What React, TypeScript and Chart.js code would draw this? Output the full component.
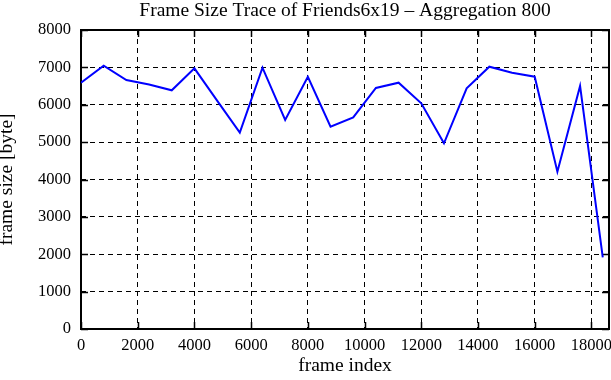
import React, { useEffect, useRef } from "react";
import { Chart, registerables } from "chart.js";

Chart.register(...registerables);

const chartTitle = "Frame Size Trace of Friends6x19 – Aggregation 800";
const xTitle = "frame index";
const yTitle = "frame size [byte]";

const frameIndex = [
  0, 800, 1600, 2400, 3200, 4000, 4800, 5600, 6400, 7200, 8000, 8800, 9600,
  10400, 11200, 12000, 12800, 13600, 14400, 15200, 16000, 16800, 17600, 18400,
];
const frameSize = [
  6590, 7045, 6662, 6540, 6386, 6975, 6110, 5253, 6993, 5592, 6750, 5413, 5663,
  6448, 6590, 6038, 4968, 6440, 7018, 6857, 6750, 4209, 6502, 1918,
];

const xTicks = [0, 2000, 4000, 6000, 8000, 10000, 12000, 14000, 16000, 18000];
const yTicks = [0, 1000, 2000, 3000, 4000, 5000, 6000, 7000, 8000];
const xMin = 0;
const xMax = 18620;
const yMin = 0;
const yMax = 8000;

const framePlugin = {
  id: "gnuplotFrame",
  beforeDatasetsDraw(chart: any) {
    const { ctx, chartArea, scales } = chart;
    const { left, right, top, bottom } = chartArea;
    ctx.save();
    ctx.strokeStyle = "#000";
    ctx.lineWidth = 1.5;
    ctx.setLineDash([]);
    const len = 7;
    ctx.beginPath();
    for (const t of scales.x.ticks) {
      const px = Math.round(scales.x.getPixelForValue(t.value)) + 0.5;
      ctx.moveTo(px, bottom);
      ctx.lineTo(px, bottom - len);
      ctx.moveTo(px, top);
      ctx.lineTo(px, top + len);
    }
    for (const t of scales.y.ticks) {
      const py = Math.round(scales.y.getPixelForValue(t.value)) + 0.5;
      ctx.moveTo(left, py);
      ctx.lineTo(left + len, py);
      ctx.moveTo(right, py);
      ctx.lineTo(right - len, py);
    }
    ctx.stroke();
    ctx.lineWidth = 2;
    ctx.strokeRect(left, top, right - left, bottom - top);
    ctx.restore();
  },
};

export default function App() {
  const ref = useRef<HTMLCanvasElement | null>(null);

  useEffect(() => {
    if (!ref.current) return;
    Chart.defaults.font.family = "'Liberation Serif', 'Times New Roman', serif";
    Chart.defaults.color = "#000";
    const chart = new Chart(ref.current, {
      type: "line",
      data: {
        datasets: [
          {
            data: frameIndex.map((x, i) => ({ x, y: frameSize[i] })),
            borderColor: "#0000ff",
            backgroundColor: "#0000ff",
            borderWidth: 2,
            pointRadius: 0,
            tension: 0,
            fill: false,
          },
        ],
      },
      options: {
        animation: false,
        responsive: false,
        maintainAspectRatio: false,
        layout: { padding: { top: 0, right: 2, bottom: 0, left: 0 } },
        plugins: {
          legend: { display: false },
          tooltip: { enabled: false },
          title: {
            display: true,
            fullSize: false,
            text: chartTitle,
            color: "#000",
            font: { size: 19.5, weight: "normal" },
            padding: { top: -1, bottom: 7.6 },
          },
        },
        scales: {
          x: {
            type: "linear",
            min: xMin,
            max: xMax,
            afterBuildTicks(scale: any) {
              scale.ticks = xTicks.map((v) => ({ value: v }));
            },
            ticks: {
              color: "#000",
              font: { size: 16.5 },
              padding: 7,
              maxRotation: 0,
              autoSkip: false,
              callback: (v: any) => String(v),
            },
            grid: { color: "#000", lineWidth: 1, drawTicks: false },
            border: { display: false, dash: [5, 4] },
            title: {
              display: true,
              text: xTitle,
              color: "#000",
              font: { size: 19.5 },
              padding: { top: 0, bottom: 2.3 },
            },
            afterFit(scale: any) {
              scale.height = 51;
              scale.paddingLeft = 0;
              scale.paddingRight = 0;
            },
          },
          y: {
            type: "linear",
            min: yMin,
            max: yMax,
            afterBuildTicks(scale: any) {
              scale.ticks = yTicks.map((v) => ({ value: v }));
            },
            ticks: {
              color: "#000",
              font: { size: 16.5 },
              padding: 10,
              autoSkip: false,
              callback: (v: any) => String(v),
            },
            grid: { color: "#000", lineWidth: 1, drawTicks: false },
            border: { display: false, dash: [5, 4] },
            title: {
              display: true,
              text: yTitle,
              color: "#000",
              font: { size: 19.5 },
              padding: { top: -5.3, bottom: 0 },
            },
            afterFit(scale: any) {
              scale.width = 81;
              scale.paddingTop = 0;
              scale.paddingBottom = 0;
            },
          },
        },
      },
      plugins: [framePlugin],
    });
    return () => chart.destroy();
  }, []);

  return (
    <div style={{ position: "fixed", left: 0, top: 0, width: 611, height: 380, background: "#fff" }}>
      <canvas ref={ref} width={611} height={380} style={{ width: 611, height: 380, display: "block" }} />
    </div>
  );
}
